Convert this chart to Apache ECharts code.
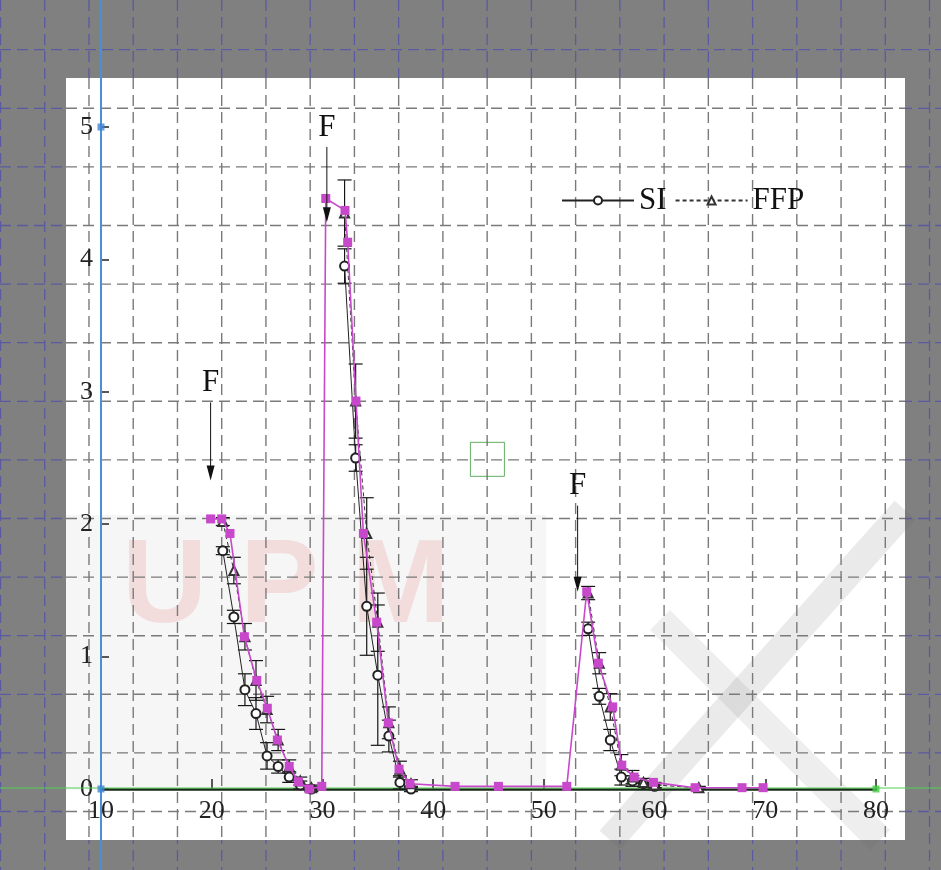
<!DOCTYPE html>
<html><head><meta charset="utf-8">
<script src="https://cdn.jsdelivr.net/npm/echarts@6/dist/echarts.min.js"></script>
<style>html,body{margin:0;padding:0;background:#808080}#c{width:941px;height:870px}</style>
</head><body><div id="c"></div>
<script>
// ---- axis settings ----
const xMin = 10, xMax = 80, xStep = 10;
const yMin = 0, yMax = 5, yStep = 1;

// ---- digitised (magenta) trace ----
const digitX = [19.9, 20.9, 21.65, 22.95, 24.07, 25.02, 25.93, 27.0, 27.82, 28.8, 29.94, 30.3, 32.04, 32.28, 33.03, 33.7, 34.9, 35.95, 36.92, 37.91, 41.98, 45.9, 52.07, 53.87, 54.92, 56.22, 57.04, 58.15, 59.9, 63.66, 67.9, 69.8];
const digitY = [2.04, 2.04, 1.93, 1.15, 0.82, 0.61, 0.37, 0.17, 0.055, 0.0, 0.02, 4.46, 4.37, 4.13, 2.93, 1.93, 1.26, 0.50, 0.15, 0.04, 0.02, 0.02, 0.02, 1.49, 0.95, 0.62, 0.18, 0.09, 0.05, 0.01, 0.01, 0.01];

// ---- SI series ----
const siX     = [21, 22, 23, 24, 25, 26, 27, 28, 29, 32, 33, 34, 35, 36, 37, 38, 54, 55, 56, 57, 58, 59, 60];
const siY     = [1.80, 1.30, 0.75, 0.57, 0.25, 0.17, 0.09, 0.03, 0.00, 3.95, 2.50, 1.38, 0.86, 0.40, 0.05, 0.00, 1.21, 0.70, 0.37, 0.09, 0.06, 0.04, 0.02];
const siErr   = [0.03, 0.05, 0.12, 0.12, 0.10, 0.05, 0.04, 0.03, 0.02, 0.13, 0.10, 0.37, 0.53, 0.12, 0.05, 0.02, 0.05, 0.06, 0.08, 0.06, 0.04, 0.02, 0.01];
const siCycle = [1, 1, 1, 1, 1, 1, 1, 1, 1, 2, 2, 2, 2, 2, 2, 2, 3, 3, 3, 3, 3, 3, 3];

// ---- FFP series ----
const ffpX     = [21, 22, 23, 24, 25, 26, 27, 28, 29, 32, 33, 34, 35, 36, 37, 38, 54, 55, 56, 57, 58, 59, 60, 64];
const ffpY     = [2.02, 1.65, 1.15, 0.82, 0.60, 0.37, 0.17, 0.06, 0.01, 4.35, 2.93, 1.93, 1.26, 0.50, 0.15, 0.04, 1.48, 0.95, 0.62, 0.18, 0.09, 0.05, 0.03, 0.01];
const ffpErr   = [0.03, 0.10, 0.10, 0.15, 0.10, 0.08, 0.05, 0.03, 0.02, 0.25, 0.28, 0.27, 0.22, 0.12, 0.06, 0.03, 0.05, 0.08, 0.10, 0.08, 0.05, 0.03, 0.02, 0.01];
const ffpCycle = [1, 1, 1, 1, 1, 1, 1, 1, 1, 2, 2, 2, 2, 2, 2, 2, 3, 3, 3, 3, 3, 3, 3, 3];

// ---- "F" arrows (feeding events) ----
const arrowX    = [19.9, 30.4, 53.05];
const arrowFrom = [2.92, 4.85, 2.14];
const arrowTo   = [2.33, 4.28, 1.49];
const arrowText = ['F', 'F', 'F'];

// ---- digitiser calibration points & cursor ----
const calibBlue  = [[10, 5], [10, 0]];
const calibGreen = [[80, 0]];
const cursorPt   = [[44.9, 2.49]];

const legendNames = ['SI', 'FFP'];
const SERIF = '"Liberation Serif","DejaVu Serif",serif';

function withGaps(xs, ys, cyc) {
  const out = [];
  for (let i = 0; i < xs.length; i++) {
    if (i > 0 && cyc[i] !== cyc[i - 1]) out.push(['-', '-']);
    out.push([xs[i], ys[i]]);
  }
  return out;
}
function errData(xs, ys, es) {
  return xs.map((x, i) => [x, ys[i] - es[i], ys[i] + es[i]]);
}
function errRender(params, api) {
  const x = api.value(0), lo = api.value(1), hi = api.value(2);
  const a = api.coord([x, lo]), b = api.coord([x, hi]);
  const w = 7;
  const st = { stroke: '#151515', lineWidth: 1.2 };
  return { type: 'group', children: [
    { type: 'line', shape: { x1: a[0], y1: a[1], x2: b[0], y2: b[1] }, style: st },
    { type: 'line', shape: { x1: b[0] - w, y1: b[1], x2: b[0] + w, y2: b[1] }, style: st },
    { type: 'line', shape: { x1: a[0] - w, y1: a[1], x2: a[0] + w, y2: a[1] }, style: st }
  ]};
}
// arrows drawn through the axes: shaft + filled head
function arrowRender(params, api) {
  const x = api.value(0), y1 = api.value(1), y2 = api.value(2);
  const a = api.coord([x, y1]), b = api.coord([x, y2]);
  const hw = 4, hl = 15;
  return { type: 'group', children: [
    { type: 'line', shape: { x1: a[0], y1: a[1], x2: b[0], y2: b[1] - hl + 2 }, style: { stroke: '#111', lineWidth: 1 } },
    { type: 'polygon', shape: { points: [[b[0] - hw, b[1] - hl], [b[0] + hw, b[1] - hl], [b[0], b[1]]] }, style: { fill: '#111' } },
    { type: 'text', x: a[0], y: a[1] - 4, style: { text: arrowText[params.dataIndex], font: '31px ' + SERIF, fill: '#111', align: 'center', verticalAlign: 'bottom' } }
  ]};
}

const chart = echarts.init(document.getElementById('c'), null, { renderer: 'canvas' });
chart.setOption({
  backgroundColor: '#808080',
  animation: false,
  grid: { left: 101, right: 65, top: 127, bottom: 81, containLabel: false },
  legend: {
    data: legendNames, left: 556, top: 180, itemWidth: 72, itemHeight: 10, itemGap: 8,
    textStyle: { fontFamily: SERIF, fontSize: 31, color: '#111' }
  },
  xAxis: {
    type: 'value', min: xMin, max: xMax, interval: xStep,
    axisLine: { show: true, lineStyle: { color: '#1a2a1a', width: 2.5 } },
    axisTick: { show: true, inside: true, length: 10, lineStyle: { color: '#222', width: 1.5 } },
    axisLabel: { fontFamily: SERIF, fontSize: 26, color: '#222', margin: 9 },
    splitLine: { show: false }
  },
  yAxis: {
    type: 'value', min: yMin, max: yMax, interval: yStep,
    axisLine: { show: false },
    axisTick: { show: true, inside: true, length: 8, lineStyle: { color: '#222', width: 1.5 } },
    axisLabel: { fontFamily: SERIF, fontSize: 26, color: '#222', margin: 8 },
    splitLine: { show: false }
  },
  series: [
    { name: 'SI', type: 'line', data: withGaps(siX, siY, siCycle), connectNulls: false,
      symbol: 'emptyCircle', symbolSize: 9, showAllSymbol: true,
      lineStyle: { color: '#222', width: 1 }, itemStyle: { color: '#222', borderWidth: 1 }, z: 3 },
    { name: 'FFP', type: 'line', data: withGaps(ffpX, ffpY, ffpCycle), connectNulls: false,
      symbol: 'emptyTriangle', symbolSize: 9, showAllSymbol: true,
      lineStyle: { color: '#333', width: 1, type: [4, 3] }, itemStyle: { color: '#333', borderWidth: 1 }, z: 3 },
    { name: 'SI err', type: 'custom', renderItem: errRender, data: errData(siX, siY, siErr),
      encode: { x: 0, y: [1, 2] }, z: 3 },
    { name: 'FFP err', type: 'custom', renderItem: errRender, data: errData(ffpX, ffpY, ffpErr),
      encode: { x: 0, y: [1, 2] }, z: 3 },
    { name: 'digit', type: 'line', data: digitX.map((x, i) => [x, digitY[i]]),
      symbol: 'rect', symbolSize: 9, showAllSymbol: true,
      lineStyle: { color: '#c848cc', width: 1.6 }, itemStyle: { color: '#c848cc' }, z: 5 },
    { name: 'arrows', type: 'custom', renderItem: arrowRender,
      data: arrowX.map((x, i) => [x, arrowFrom[i], arrowTo[i]]),
      encode: { x: 0, y: [1, 2] }, z: 6 },
    { name: 'calibBlue', type: 'scatter', data: calibBlue, symbol: 'rect', symbolSize: 7,
      itemStyle: { color: '#3d86d6' }, z: 8 },
    { name: 'calibGreen', type: 'scatter', data: calibGreen, symbol: 'rect', symbolSize: 7,
      itemStyle: { color: '#44cc44' }, z: 8 },
    { name: 'cursor', type: 'scatter', data: cursorPt, symbol: 'rect', symbolSize: 34,
      itemStyle: { color: 'rgba(0,0,0,0)', borderColor: '#3a9a3a', borderWidth: 1 }, z: 4 }
  ]
});

// ---- background decoration (digitiser screen) ----
const W = 941, H = 870;
const plotBox = { x: 66, y: 78, w: 839, h: 762 };
const gx0 = 221.7, gdx = 44.24, gy0 = 108.3, gdy = 58.6;
const g = [];
g.push({ type: 'rect', shape: { x: 0, y: 0, width: W, height: H }, style: { fill: '#808080' }, z: -100, silent: true });
for (let k = -6; k < 20; k++) {
  const x = gx0 + k * gdx; if (x < 0 || x > W) continue;
  g.push({ type: 'line', shape: { x1: x, y1: 0, x2: x, y2: H }, style: { stroke: '#5a5aa0', lineWidth: 1.3, lineDash: [11, 6] }, z: -99, silent: true });
}
for (let k = -3; k < 15; k++) {
  const y = gy0 + k * gdy; if (y < 0 || y > H) continue;
  g.push({ type: 'line', shape: { x1: 0, y1: y, x2: W, y2: y }, style: { stroke: '#5a5aa0', lineWidth: 1.3, lineDash: [11, 6] }, z: -99, silent: true });
}
g.push({ type: 'rect', shape: { x: plotBox.x, y: plotBox.y, width: plotBox.w, height: plotBox.h }, style: { fill: '#ffffff' }, z: -98, silent: true });
// faint watermark
g.push({ type: 'rect', shape: { x: plotBox.x, y: 515, width: 480, height: 275 }, style: { fill: 'rgba(0,0,0,0.035)' }, z: -97, silent: true });
g.push({ type: 'text', x: 122, y: 530, style: { text: 'U P M', font: 'bold 118px "Liberation Sans", sans-serif', fill: 'rgba(230,120,120,0.2)' }, z: -97, silent: true });
g.push({ type: 'line', shape: { x1: 610, y1: 840, x2: 905, y2: 510 }, style: { stroke: 'rgba(90,90,90,0.13)', lineWidth: 28 }, z: -97, silent: true });
g.push({ type: 'line', shape: { x1: 660, y1: 620, x2: 880, y2: 840 }, style: { stroke: 'rgba(90,90,90,0.10)', lineWidth: 28 }, z: -97, silent: true });
for (let k = -6; k < 20; k++) {
  const x = gx0 + k * gdx; if (x < plotBox.x || x > plotBox.x + plotBox.w) continue;
  g.push({ type: 'line', shape: { x1: x, y1: plotBox.y, x2: x, y2: plotBox.y + plotBox.h }, style: { stroke: '#7a7a7a', lineWidth: 1.4, lineDash: [11, 6] }, z: -96, silent: true });
}
for (let k = -3; k < 15; k++) {
  const y = gy0 + k * gdy; if (y < plotBox.y || y > plotBox.y + plotBox.h) continue;
  g.push({ type: 'line', shape: { x1: plotBox.x, y1: y, x2: plotBox.x + plotBox.w, y2: y }, style: { stroke: '#7a7a7a', lineWidth: 1.4, lineDash: [11, 6] }, z: -96, silent: true });
}
// digitiser axis reference lines through x = xMin and y = yMin, spanning the whole screen
const px0 = chart.convertToPixel({ xAxisIndex: 0 }, xMin);
const py0 = chart.convertToPixel({ yAxisIndex: 0 }, yMin);
g.push({ type: 'line', shape: { x1: px0, y1: 0, x2: px0, y2: H }, style: { stroke: '#4a90d8', lineWidth: 2 }, z: 1, silent: true });
g.push({ type: 'line', shape: { x1: 0, y1: py0 - 1, x2: W, y2: py0 - 1 }, style: { stroke: '#55d055', lineWidth: 1.2 }, z: 1, silent: true });
chart.setOption({ graphic: { elements: g } });
</script>
</body></html>
